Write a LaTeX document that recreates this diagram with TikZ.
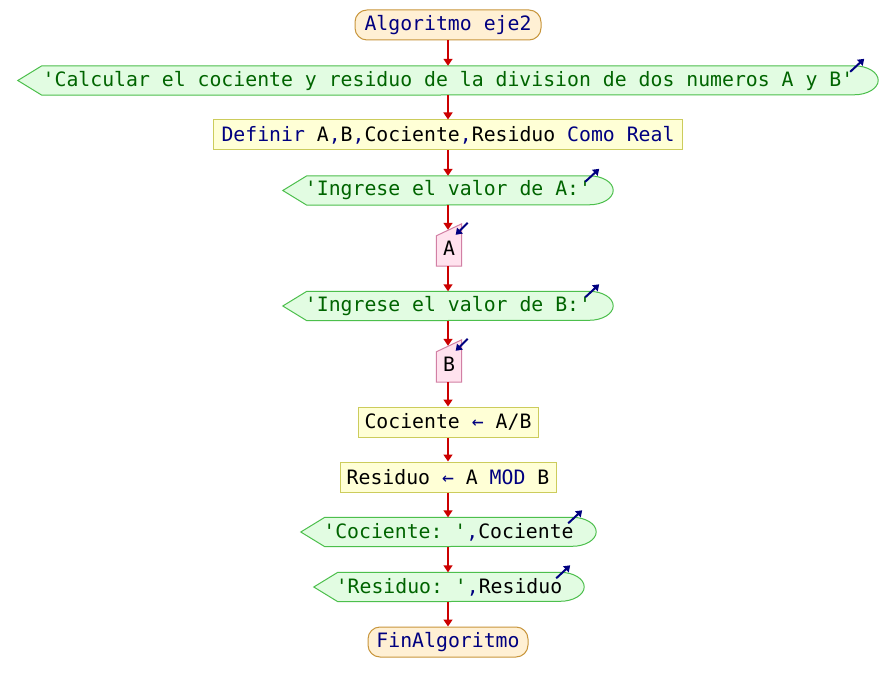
\documentclass[tikz,border=0pt]{standalone}
\usepackage{fontspec}
\setmonofont{DejaVu Sans Mono}
\usetikzlibrary{arrows.meta,backgrounds}

\definecolor{kw}{HTML}{000080}
\definecolor{str}{HTML}{006400}
\definecolor{flowred}{HTML}{CC0000}
\definecolor{termfill}{HTML}{FFF0D4}
\definecolor{termline}{HTML}{C8963C}
\definecolor{outfill}{HTML}{E2FCE2}
\definecolor{outline}{HTML}{4CBF4C}
\definecolor{procfill}{HTML}{FFFFD6}
\definecolor{procline}{HTML}{CCCC5C}
\definecolor{infill}{HTML}{FFE2EE}
\definecolor{inline}{HTML}{D27FA4}

\tikzset{
  code/.style={font=\ttfamily\fontsize{19.8}{24}\selectfont, inner sep=0pt},
  term/.style={code, draw=termline, fill=termfill, line width=1pt, rounded corners=12pt, minimum height=30pt},
  proc/.style={code, draw=procline, fill=procfill, line width=1pt, minimum height=30pt},
  outnode/.style={code, minimum height=29pt},
  innode/.style={code, minimum width=25pt, minimum height=36pt},
  outshape/.style={draw=outline, fill=outfill, line width=1pt},
  inshape/.style={draw=inline, fill=infill, line width=1pt},
  flow/.style={draw=flowred, line width=1.6pt, -{Triangle[width=9pt,length=7pt]}},
  ioarrow/.style={draw=kw, line width=2pt, -{Triangle[width=8pt,length=6pt]}}
}

% output block: pointed left end, rounded right end
\newcommand\outbody[1]{%
  \path[outshape] (#1.west) -- ([xshift=24pt]#1.north west)
    -- ([xshift=-24pt]#1.north east)
    arc[start angle=90,end angle=-90,x radius=24pt,y radius=14.5pt]
    -- ([xshift=24pt]#1.south west) -- cycle;}
\newcommand\outmark[1]{%
  \draw[ioarrow] ([xshift=-28pt,yshift=-6pt]#1.north east) -- ([xshift=-14pt,yshift=7pt]#1.north east);}

% input block: slanted top, arrow pointing in
\newcommand\inbody[1]{%
  \path[inshape] (#1.south west) -- ([yshift=-6pt]#1.north west)
    -- ([yshift=6pt]#1.north east) -- (#1.south east) -- cycle;}
\newcommand\inmark[1]{%
  \draw[ioarrow] ([xshift=6pt,yshift=7pt]#1.north east) -- ([xshift=-6pt,yshift=-5pt]#1.north east);}

\begin{document}
\begin{tikzpicture}[x=1pt,y=-1pt]
\useasboundingbox (0,0) rectangle (896,692);

\node[term, minimum width=186pt] (start) at (448,25) {\textcolor{kw}{Algoritmo eje2}};
\node[outnode, minimum width=860pt] (msg) at (448,80.5)
  {\textcolor{str}{'Calcular el cociente y residuo de la division de dos numeros A y B'}};
\node[proc, minimum width=469pt] (def) at (448,135)
  {\textcolor{kw}{Definir} A\textcolor{kw}{,}B\textcolor{kw}{,}Cociente\textcolor{kw}{,}Residuo \textcolor{kw}{Como Real}};
\node[outnode, minimum width=330pt] (askA) at (448,190.5) {\textcolor{str}{'Ingrese el valor de A:'}};
\node[innode] (readA) at (449,248) {A};
\node[outnode, minimum width=330pt] (askB) at (448,306) {\textcolor{str}{'Ingrese el valor de B:'}};
\node[innode] (readB) at (449,364) {B};
\node[proc, minimum width=180pt] (quot) at (448,422) {Cociente \textcolor{kw}{←} A/B};
\node[proc, minimum width=216pt] (rem) at (448,477) {Residuo \textcolor{kw}{←} A \textcolor{kw}{MOD} B};
\node[outnode, minimum width=295pt] (showQ) at (448.5,532) {\textcolor{str}{'Cociente: '}\textcolor{kw}{,}Cociente};
\node[outnode, minimum width=270pt] (showR) at (449,587) {\textcolor{str}{'Residuo: '}\textcolor{kw}{,}Residuo};
\node[term, minimum width=160pt] (stop) at (448,642) {\textcolor{kw}{FinAlgoritmo}};

\begin{scope}[on background layer]
  \fill[white] (0,0) rectangle (896,692);
  \outbody{msg}
  \outbody{askA}
  \inbody{readA}
  \outbody{askB}
  \inbody{readB}
  \outbody{showQ}
  \outbody{showR}
\end{scope}

\outmark{msg}
\outmark{askA}
\inmark{readA}
\outmark{askB}
\inmark{readB}
\outmark{showQ}
\outmark{showR}

\draw[flow] (start.south) -- (start.south |- msg.north);
\draw[flow] (msg.south -| def.north) -- (def.north);
\draw[flow] (def.south) -- (def.south |- askA.north);
\draw[flow] (askA.south) -- (askA.south |- readA.north);
\draw[flow] (readA.south -| askB.north) -- (askB.north);
\draw[flow] (askB.south) -- (askB.south |- readB.north);
\draw[flow] (readB.south -| quot.north) -- (quot.north);
\draw[flow] (quot.south) -- (rem.north);
\draw[flow] (rem.south) -- (rem.south |- showQ.north);
\draw[flow] (showQ.south -| rem.south) -- (rem.south |- showR.north);
\draw[flow] (showR.south -| stop.north) -- (stop.north);
\end{tikzpicture}
\end{document}
